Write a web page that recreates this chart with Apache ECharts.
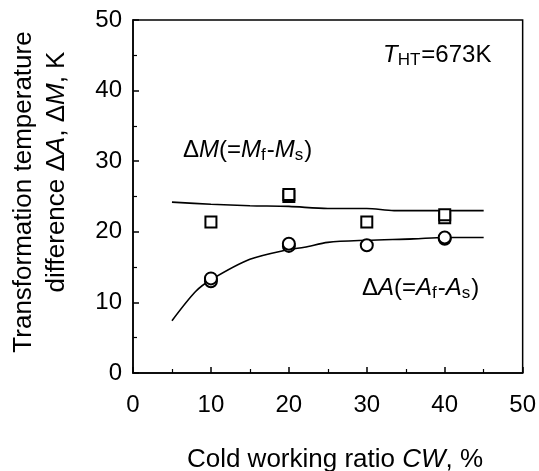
<!DOCTYPE html>
<html>
<head>
<meta charset="utf-8">
<script src="https://cdn.jsdelivr.net/npm/echarts@6/dist/echarts.min.js"></script>
<style>
  html, body { margin: 0; padding: 0; background: #fff; }
  #chart { width: 539px; height: 471px; }
</style>
</head>
<body>
<div id="chart"></div>
<script>
// measured points (cold working ratio %, K)
var dmPoints = [[10, 21.4], [20, 25.0], [20, 25.3], [30, 21.4], [40, 22.0], [40, 22.4]];
var daPoints = [[10, 13.0], [10, 13.4], [20, 18.0], [20, 18.3], [30, 18.1], [40, 19.0], [40, 19.2]];
// fitted curves
var dmCurve = [[5, 24.2], [10, 23.9], [15, 23.7], [20, 23.6], [25, 23.3], [30, 23.3], [33.5, 23.0], [40, 23.0], [45, 23.0]];
var daCurve = [[5, 7.4], [8, 11.5], [10, 13.2], [15, 16.1], [20, 17.5], [22, 17.8], [25, 18.5], [30, 18.8], [36, 19.0], [40, 19.2], [45, 19.2]];
var xTicks = [0, 10, 20, 30, 40, 50];
var yTicks = [0, 10, 20, 30, 40, 50];

var font = "'Liberation Sans', Arial, Helvetica, sans-serif";
var myChart = echarts.init(document.getElementById("chart"));

// rich styles for the labels with sub-scripts
var annoRich = {
  i: { fontStyle: "italic", fontSize: 24, fontFamily: font },
  s: { fontSize: 17, fontFamily: font, padding: [11, 1, 0, 0] },
  n: { fontSize: 24, fontFamily: font }
};

var option = {
  animation: false,
  grid: {
    left: 133,
    right: 13,
    top: 20,
    bottom: 98,
    show: true,
    borderColor: "#000",
    borderWidth: 1.5
  },
  xAxis: {
    type: "value",
    min: xTicks[0],
    max: xTicks[xTicks.length - 1],
    interval: 10,
    axisLine: { lineStyle: { color: "#000", width: 1.5 } },
    axisTick: { inside: true, length: 6, lineStyle: { color: "#000", width: 1.5 } },
    minorTick: { show: true, splitNumber: 2, length: 4, lineStyle: { color: "#000", width: 1.2 } },
    splitLine: { show: false },
    axisLabel: { color: "#000", fontSize: 24, fontFamily: font, margin: 20 }
  },
  yAxis: {
    type: "value",
    min: yTicks[0],
    max: yTicks[yTicks.length - 1],
    interval: 10,
    axisLine: { lineStyle: { color: "#000", width: 1.5 } },
    axisTick: { inside: true, length: 6, lineStyle: { color: "#000", width: 1.5 } },
    minorTick: { show: true, splitNumber: 2, length: 4, lineStyle: { color: "#000", width: 1.2 } },
    splitLine: { show: false },
    axisLabel: { color: "#000", fontSize: 24, fontFamily: font, margin: 11 }
  },
  graphic: [
    {
      type: "text", x: 335, y: 460,
      style: {
        text: "Cold working ratio {i|CW}, %",
        font: "26px " + font, fill: "#000", align: "center", verticalAlign: "middle",
        rich: { i: { fontStyle: "italic", fontSize: 26, fontFamily: font } }
      }
    },
    {
      type: "text", x: 24, y: 192, rotation: Math.PI / 2,
      style: {
        text: "Transformation temperature",
        font: "26px " + font, fill: "#000", align: "center", verticalAlign: "middle"
      }
    },
    {
      type: "text", x: 57, y: 172, rotation: Math.PI / 2,
      style: {
        text: "difference \u0394{i|A}, \u0394{i|M}, K",
        font: "26px " + font, fill: "#000", align: "center", verticalAlign: "middle",
        rich: { i: { fontStyle: "italic", fontSize: 26, fontFamily: font } }
      }
    },
    {
      type: "text", x: 383, y: 55,
      style: {
        text: "{i|T}{s|HT}{n|=673K}",
        fill: "#000", align: "left", verticalAlign: "middle",
        rich: annoRich
      }
    },
    {
      type: "text", x: 183, y: 150,
      style: {
        text: "{n|\u0394}{i|M}{n|(=}{i|M}{s|f}{n|-}{i|M}{s|s}{n|)}",
        fill: "#000", align: "left", verticalAlign: "middle",
        rich: annoRich
      }
    },
    {
      type: "text", x: 362, y: 288,
      style: {
        text: "{n|\u0394}{i|A}{n|(=}{i|A}{s|f}{n|-}{i|A}{s|s}{n|)}",
        fill: "#000", align: "left", verticalAlign: "middle",
        rich: annoRich
      }
    }
  ],
  series: [
    {
      name: "dM curve",
      type: "line",
      data: dmCurve,
      smooth: 0.3,
      symbol: "none",
      lineStyle: { color: "#000", width: 1.6 }
    },
    {
      name: "dA curve",
      type: "line",
      data: daCurve,
      smooth: 0.3,
      symbol: "none",
      lineStyle: { color: "#000", width: 1.6 }
    },
    {
      name: "dM",
      type: "scatter",
      data: dmPoints,
      symbol: "rect",
      symbolSize: 11,
      itemStyle: { color: "#fff", borderColor: "#000", borderWidth: 2, opacity: 1 },
      z: 5
    },
    {
      name: "dA",
      type: "scatter",
      data: daPoints,
      symbol: "circle",
      symbolSize: 12,
      itemStyle: { color: "#fff", borderColor: "#000", borderWidth: 2, opacity: 1 },
      z: 5
    }
  ]
};
myChart.setOption(option);
</script>
</body>
</html>
